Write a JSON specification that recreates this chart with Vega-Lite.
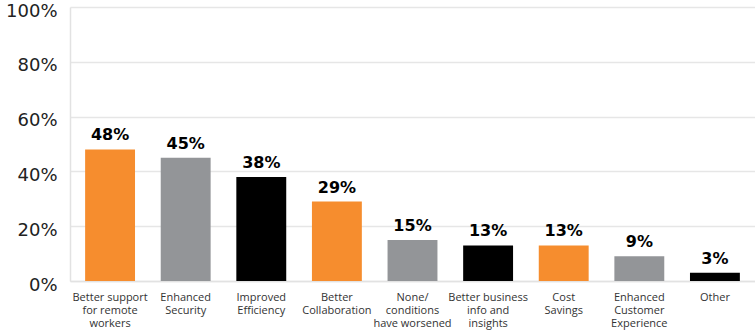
{
  "$schema": "https://vega.github.io/schema/vega-lite/v6.json",
  "autosize": "none",
  "width": 685,
  "height": 274,
  "padding": {"left": 70, "top": 7, "right": 0, "bottom": 50},
  "background": "white",
  "config": {"view": {"stroke": null}, "font": "Open Sans"},
  "data": {
    "values": [
      {"category": "Better support|for remote|workers", "value": 48, "color": "orange"},
      {"category": "Enhanced|Security", "value": 45, "color": "gray"},
      {"category": "Improved|Efficiency", "value": 38, "color": "black"},
      {"category": "Better|Collaboration", "value": 29, "color": "orange"},
      {"category": "None/|conditions|have worsened", "value": 15, "color": "gray"},
      {"category": "Better business|info and|insights", "value": 13, "color": "black"},
      {"category": "Cost|Savings", "value": 13, "color": "orange"},
      {"category": "Enhanced|Customer|Experience", "value": 9, "color": "gray"},
      {"category": "Other", "value": 3, "color": "black"}
    ]
  },
  "encoding": {
    "x": {
      "field": "category",
      "type": "nominal",
      "sort": null,
      "scale": {"paddingInner": 0.34, "paddingOuter": 0.2},
      "axis": {
        "title": null,
        "labelAngle": 0,
        "labelExpr": "split(datum.label, '|')",
        "labelFont": "Open Sans",
        "labelFontSize": 11,
        "labelColor": "#333333",
        "labelLineHeight": 13.3,
        "labelPadding": 10,
        "labelBaseline": "top",
        "domainColor": "#e2e2e2",
        "domainWidth": 1.5,
        "ticks": false
      }
    },
    "y": {
      "field": "value",
      "type": "quantitative",
      "scale": {"domain": [0, 100]},
      "axis": {
        "title": null,
        "values": [0, 20, 40, 60, 80, 100],
        "labelExpr": "datum.value + '%'",
        "labelFont": "DejaVu Sans",
        "labelFontWeight": "normal",
        "labelFontSize": 18,
        "labelColor": "#222222",
        "labelPadding": 13,
        "labelOffset": 4,
        "ticks": false,
        "domainColor": "#e2e2e2",
        "domainWidth": 1.5,
        "gridColor": "#e6e6e6",
        "gridWidth": 1.5
      }
    }
  },
  "layer": [
    {
      "mark": {"type": "bar"},
      "encoding": {
        "color": {
          "field": "color",
          "type": "nominal",
          "scale": {"domain": ["orange", "gray", "black"], "range": ["#F68D2E", "#939598", "#000000"]},
          "legend": null
        }
      }
    },
    {
      "transform": [{"calculate": "datum.value + '%'", "as": "pct"}],
      "mark": {"type": "text", "dy": -9, "baseline": "alphabetic", "font": "DejaVu Sans", "fontSize": 16, "fontWeight": "bold", "color": "#000000"},
      "encoding": {
        "text": {"field": "pct", "type": "nominal"}
      }
    }
  ]
}
